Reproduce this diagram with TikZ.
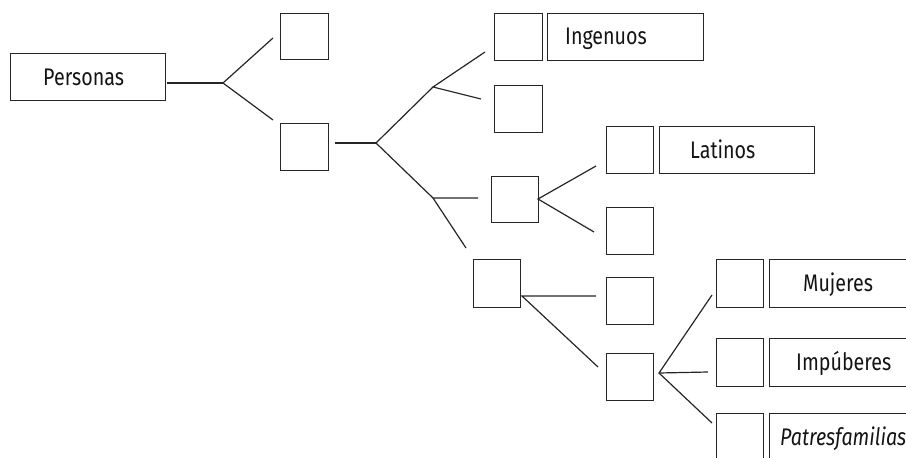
\documentclass[tikz,border=0pt]{standalone}
\usepackage{fontspec}
\setmainfont{Fira Sans}[FakeStretch=0.82]
\begin{document}
\begin{tikzpicture}[x=1pt,y=-1pt,
  ln/.style={line width=1.2pt,draw=black!85},
  bxs/.style={ln,inner sep=0pt,anchor=north west},
  lbl/.style={anchor=base west,inner sep=0pt,font=\fontsize{24}{28}\selectfont,text=black!92}]
\useasboundingbox (0,0) rectangle (906,458);
\clip (0,0) rectangle (906,458);
% boxes as named nodes (corners)
\newcommand\bx[5]{\node[bxs,minimum width=#4-#2,minimum height=#5-#3] (#1) at (#2,#3) {};}
\bx{per}{10}{53}{165}{100}
\bx{a1}{280}{13}{328}{59}
\bx{a2}{280}{123}{328}{170}
\bx{b1}{494}{13}{542}{60}
\bx{ing}{547}{13}{703}{60}
\bx{b2}{494}{85}{542}{132}
\bx{b3}{491}{176}{538}{222}
\bx{b4}{473}{259}{520}{307}
\bx{c1}{606}{126}{653}{173}
\bx{lat}{659}{126}{814}{173}
\bx{c2}{606}{207}{653}{254}
\bx{c3}{606}{277}{653}{324}
\bx{c4}{606}{353}{653}{400}
\bx{d1}{716}{259}{763}{307}
\bx{muj}{769}{259}{911}{307}
\bx{d2}{716}{338}{763}{386}
\bx{imp}{769}{338}{911}{386}
\bx{d3}{716}{413}{763}{462}
\bx{pat}{769}{413}{911}{462}
% texts
\node[lbl] (tper) at (43,85) {Personas};
\node[lbl] (ting) at (565,44) {Ingenuos};
\node[lbl] (tlat) at (690,158) {Latinos};
\node[lbl] (tmuj) at (803,291) {Mujeres};
\node[lbl] (timp) at (796,370) {Impúberes};
\node[lbl] (tpat) at (780,445) {\itshape Patresfamilias};
% fork points and free ends
\coordinate (s0) at (167,83);
\coordinate (f1) at (223,83);
\coordinate (e1a) at (273,38);
\coordinate (e1b) at (273,120);
\coordinate (s2) at (335,143);
\coordinate (f2) at (376,143);
\coordinate (f2a) at (433,87);
\coordinate (f2b) at (433,198);
\coordinate (e2a) at (485,52);
\coordinate (e2b) at (481,99);
\coordinate (e2c) at (478,198);
\coordinate (e2d) at (466,248);
\coordinate (f3) at (538,199);
\coordinate (e3a) at (596,166);
\coordinate (e3b) at (594,232);
\coordinate (f4) at (522,296);
\coordinate (e4a) at (596,296);
\coordinate (e4b) at (598,367);
\coordinate (f5) at (659,373);
\coordinate (e5a) at (712,295);
\coordinate (e5b) at (708,372);
\coordinate (e5c) at (712,423);
% connectors
\draw[ln] (s0) -- (f1);
\draw[ln] (e1a) -- (f1) -- (e1b);
\draw[ln] (s2) -- (f2);
\draw[ln] (f2a) -- (f2) -- (f2b);
\draw[ln] (e2a) -- (f2a) -- (e2b);
\draw[ln] (e2c) -- (f2b) -- (e2d);
\draw[ln] (e3a) -- (f3) -- (e3b);
\draw[ln] (e4a) -- (f4) -- (e4b);
\draw[ln] (e5a) -- (f5) -- (e5c);
\draw[ln] (f5) -- (e5b);
\end{tikzpicture}
\end{document}
